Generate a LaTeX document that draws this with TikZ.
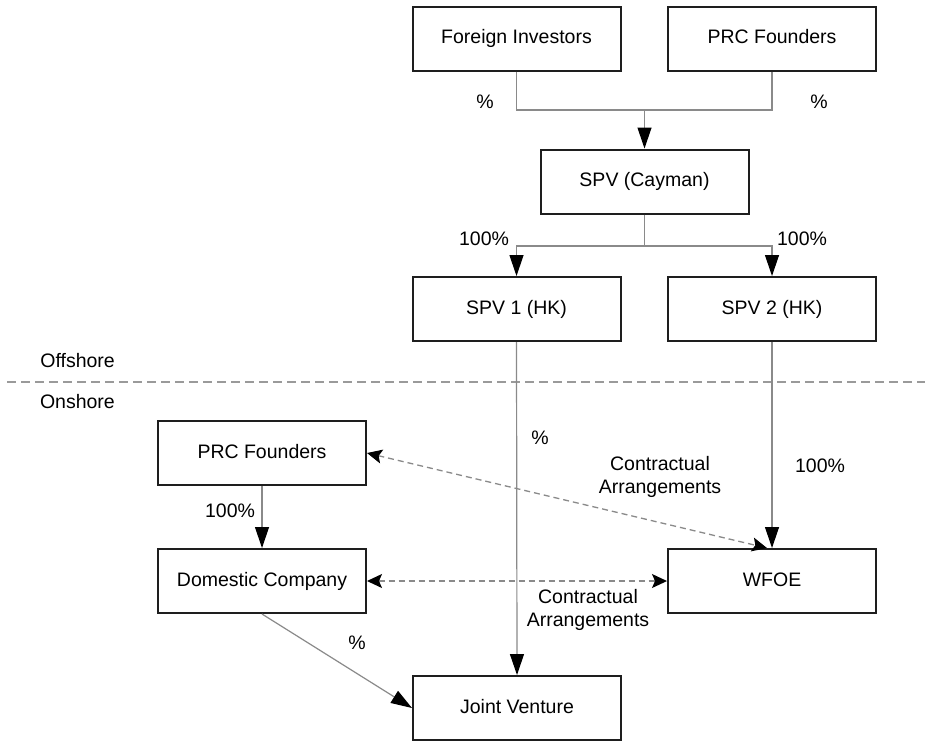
\documentclass[tikz,border=0pt]{standalone}
\usepackage{fontspec}
\setmainfont{Liberation Sans}
\usetikzlibrary{arrows.meta}
\definecolor{boxline}{HTML}{1E1E1E}
\definecolor{connline}{HTML}{8A8A8A}
\definecolor{sepline}{HTML}{9A9A9A}
\begin{document}
\begin{tikzpicture}[x=1pt,y=-1pt,
  font=\fontsize{19.5}{23}\selectfont,
  entity/.style={draw=boxline,line width=2pt,fill=white,minimum width=208pt,minimum height=64pt,inner sep=0pt,align=center,text height=14pt,text depth=4pt},
  conn/.style={draw=connline,line width=1.2pt},
  owns/.style={conn,-{Triangle[length=21pt,width=14pt,color=black]}},
  contract/.style={draw=connline,line width=1.3pt,dash pattern=on 6pt off 4pt,
     {Stealth[length=15pt,width=14pt,inset=3pt,color=black]}-{Stealth[length=15pt,width=14pt,inset=3pt,color=black]}},
  lbl/.style={inner sep=0pt,align=center}]
\useasboundingbox (0,0) rectangle (925,740);
\fill[white] (0,0) rectangle (925,740);

% separator
\draw[sepline,line width=1.8pt,dash pattern=on 9pt off 5pt] (7,382) -- (925,382);
\node[lbl,anchor=east] (off) at (115,361) {Offshore};
\node[lbl,anchor=east] (on) at (115,402) {Onshore};

% nodes
\node[entity] (fi) at (516.5,38.5) {Foreign Investors};
\node[entity] (prca) at (772,38.5) {PRC Founders};
\node[entity] (cay) at (644.5,181.5) {SPV (Cayman)};
\node[entity] (spva) at (516.5,309) {SPV 1 (HK)};
\node[entity] (spvb) at (772,309) {SPV 2 (HK)};
\node[entity] (prcb) at (262,453) {PRC Founders};
\node[entity] (dc) at (262,581) {Domestic Company};
\node[entity] (wfoe) at (772,581) {WFOE};
\node[entity] (jv) at (517,708) {Joint Venture};

\coordinate (j1) at (644.5,110);
\coordinate (j2) at (644.5,246);

% top connectors
\draw[conn] (fi.south) |- (j1) -| (prca.south);
\draw[owns] (j1) -- (cay.north);
\draw[conn] (cay.south) -- (j2);
\draw[owns] (j2) -| (spva.north);
\draw[owns] (j2) -| (spvb.north);

% down connectors
\draw[owns] (spva.south) -- (jv.north);
\draw[owns] (spvb.south) -- (wfoe.north);
\draw[owns] (prcb.south) -- (dc.north);
\draw[owns] (dc.south) -- (jv.west);

% contractual
\draw[contract] (prcb.east) -- ([xshift=-5pt]wfoe.north);
\draw[contract] (dc.east) -- (wfoe.west);

% labels
\node[lbl] (l1) at (485,102) {\%};
\node[lbl] (l2) at (819,102) {\%};
\node[lbl] (l3) at (484,239) {100\%};
\node[lbl] (l4) at (802,239) {100\%};
\node[lbl] (l5) at (540,438) {\%};
\node[lbl] (l6) at (820,466) {100\%};
\node[lbl] (l7) at (660,476.5) {Contractual\\Arrangements};
\node[lbl] (l8) at (230,511) {100\%};
\node[lbl] (l9) at (588,609.5) {Contractual\\Arrangements};
\node[lbl] (l10) at (357,643) {\%};
\end{tikzpicture}
\end{document}
